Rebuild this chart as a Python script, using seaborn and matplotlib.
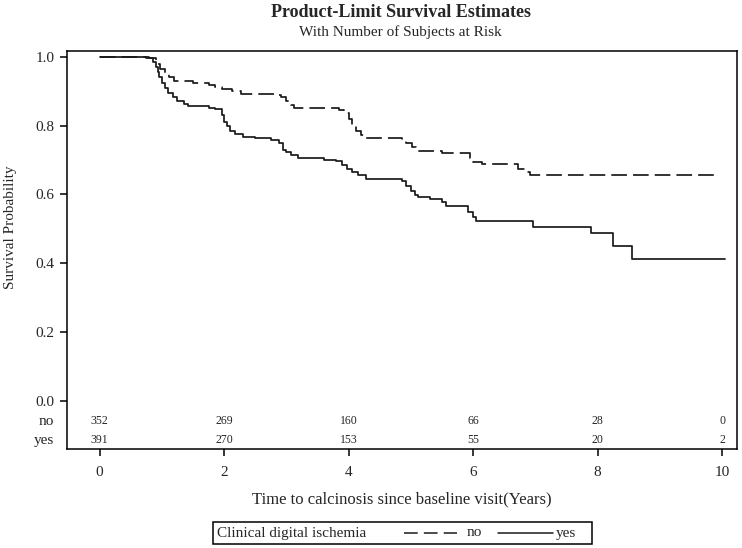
import pandas as pd
import matplotlib.pyplot as plt
import seaborn as sns
from matplotlib.lines import Line2D
from matplotlib.patches import Rectangle

# survival steps (time in years, survival after the step)
no_time = [0, 0.8, 0.9, 0.97, 1.05, 1.12, 1.2, 1.5, 1.75, 1.85, 1.97, 2.12, 2.27,
           2.8, 2.92, 3.0, 3.07, 3.12, 3.85, 3.92, 4.0, 4.06, 4.12, 4.2, 4.27,
           4.85, 4.92, 5.02, 5.09, 5.5, 5.95, 6.0, 6.15, 6.72, 6.85, 6.92, 9.92]
no_surv = [1.0, 0.995, 0.98, 0.965, 0.952, 0.94, 0.928, 0.923, 0.918, 0.912, 0.906, 0.900, 0.893,
           0.889, 0.882, 0.872, 0.86, 0.852, 0.845, 0.835, 0.82, 0.80, 0.785, 0.772, 0.763,
           0.757, 0.75, 0.737, 0.725, 0.72, 0.705, 0.695, 0.687, 0.675, 0.665, 0.655, 0.655]

yes_time = [0, 0.75, 0.85, 0.9, 0.93, 0.96, 1.0, 1.05, 1.1, 1.17, 1.25, 1.35, 1.42, 1.75, 1.85,
            1.96, 2.0, 2.04, 2.1, 2.18, 2.3, 2.5, 2.75, 2.88, 2.95, 3.0, 3.08, 3.18,
            3.6, 3.8, 3.9, 3.97, 4.05, 4.15, 4.28, 4.85, 4.92, 5.0, 5.07, 5.12, 5.3,
            5.5, 5.57, 5.92, 6.0, 6.05, 6.97, 7.9, 8.25, 8.55, 10.05]
yes_surv = [1.0, 0.995, 0.985, 0.97, 0.955, 0.94, 0.925, 0.91, 0.895, 0.882, 0.872, 0.862, 0.857,
            0.852, 0.848, 0.83, 0.81, 0.80, 0.785, 0.775, 0.768, 0.763, 0.757, 0.748, 0.73, 0.722,
            0.713, 0.707, 0.701, 0.697, 0.685, 0.675, 0.665, 0.655, 0.646, 0.638, 0.625, 0.61,
            0.598, 0.592, 0.587, 0.578, 0.565, 0.55, 0.535, 0.523, 0.505, 0.488, 0.449, 0.411, 0.411]

risk_times = [0, 2, 4, 6, 8, 10]
risk_no = [352, 269, 160, 66, 28, 0]
risk_yes = [391, 270, 153, 55, 20, 2]

df = pd.concat([
    pd.DataFrame({"time": no_time, "surv": no_surv, "group": "no"}),
    pd.DataFrame({"time": yes_time, "surv": yes_surv, "group": "yes"}),
])

sns.set_style("ticks")
plt.rcParams['font.family'] = ['Liberation Serif', 'DejaVu Serif']

fig = plt.figure(figsize=(7.42, 5.48), dpi=100)
ax = fig.add_axes([66.7 / 742, 1 - 449 / 548, (737 - 66.7) / 742, (449 - 51) / 548])

sns.lineplot(data=df, x="time", y="surv", style="group",
             dashes={"no": (9, 3.5), "yes": ""}, color="#1a1a1a",
             drawstyle="steps-post", estimator=None, legend=False, lw=1.25, ax=ax)

ax.set_xlim(-0.53, 10.24)
ax.set_ylim(-0.140, 1.0166)
ax.set_xticks(risk_times)
ax.set_yticks([0, 0.2, 0.4, 0.6, 0.8, 1.0])
ax.set_yticklabels(["0.0", "0.2", "0.4", "0.6", "0.8", "1.0"])
ax.tick_params(labelsize=11, length=5, width=1.1, color="black")
ax.tick_params(axis="x", pad=7)
ax.tick_params(axis="y", pad=4)
for s in ax.spines.values():
    s.set_linewidth(1.1)
    s.set_color("black")

# number at risk table inside the axes
for t, n in zip(risk_times, risk_no):
    ax.text(t, -0.059, str(n), ha="center", va="center", fontsize=8.5)
for t, n in zip(risk_times, risk_yes):
    ax.text(t, -0.114, str(n), ha="center", va="center", fontsize=8.5)
ax.text(-0.74, -0.059, "no", ha="right", va="center", fontsize=11, clip_on=False)
ax.text(-0.74, -0.114, "yes", ha="right", va="center", fontsize=11, clip_on=False)

ax.set_xlabel("Time to calcinosis since baseline visit(Years)", fontsize=12, labelpad=9)
ax.set_ylabel("Survival Probability", fontsize=11)
ax.yaxis.set_label_coords(-0.074, 0.558)

fig.text(0.540, 0.978, "Product-Limit Survival Estimates", ha="center", va="center",
         fontsize=13, fontweight="bold")
fig.text(0.540, 0.942, "With Number of Subjects at Risk", ha="center", va="center", fontsize=11)

# legend box drawn by hand
W, H = 742, 548
fig.patches.append(Rectangle((213 / W, 1 - 544 / H), 379 / W, 22 / H, transform=fig.transFigure,
                             fill=False, edgecolor="black", lw=1.1))
ly = 1 - 533 / H
fig.text(217 / W, ly, "Clinical digital ischemia", ha="left", va="center", fontsize=11)
fig.lines.append(Line2D([404 / W, 457 / W], [ly, ly], transform=fig.transFigure,
                        color="#1a1a1a", lw=1.1, dashes=(9, 4)))
fig.text(467 / W, ly, "no", ha="left", va="center", fontsize=11)
fig.lines.append(Line2D([498 / W, 553 / W], [ly, ly], transform=fig.transFigure,
                        color="#1a1a1a", lw=1.1))
fig.text(556 / W, ly, "yes", ha="left", va="center", fontsize=11)

fig.savefig("out.png", dpi=100)
